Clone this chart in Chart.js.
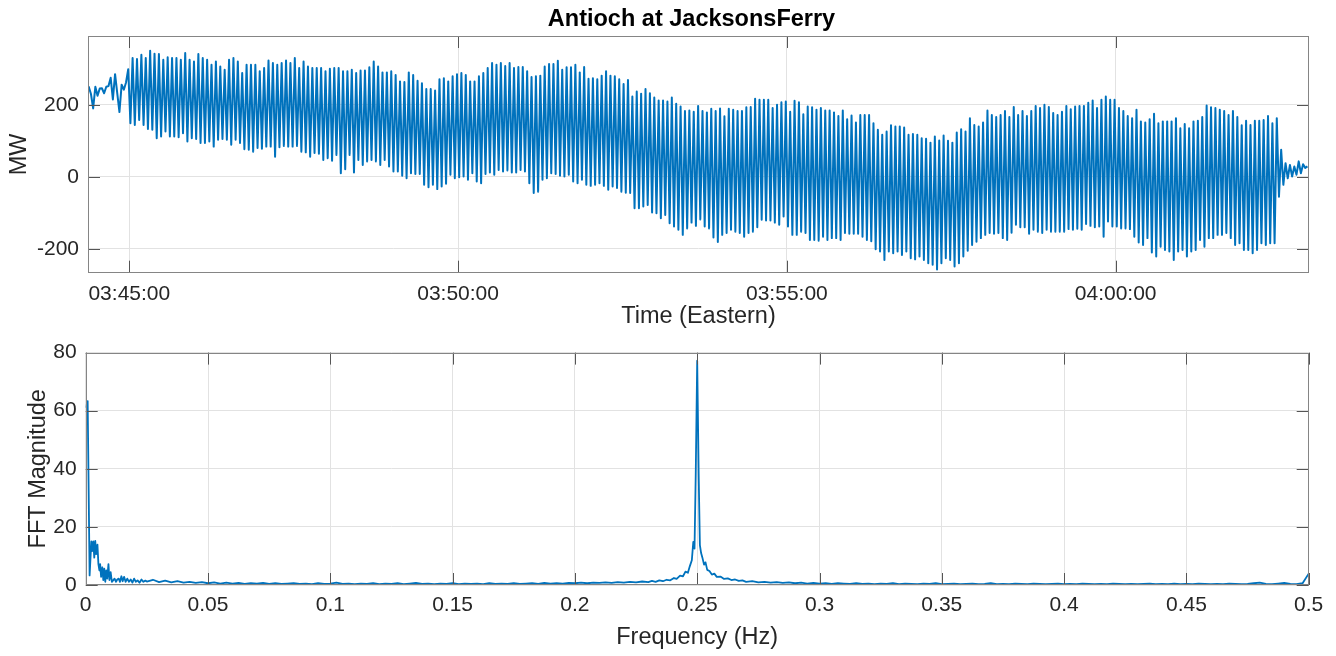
<!DOCTYPE html>
<html>
<head>
<meta charset="utf-8">
<title>Antioch at JacksonsFerry</title>
<script src="https://cdn.jsdelivr.net/npm/chart.js@4.4.1/dist/chart.umd.min.js"></script>
<style>
  html, body { margin: 0; padding: 0; background: #fff; }
  #wrap { position: relative; width: 1336px; height: 656px; overflow: hidden; }
  canvas { position: absolute; left: 0; }
  #chart-mw { top: 0; }
  #chart-fft { top: 331px; }
</style>
</head>
<body>
<div id="wrap">
  <canvas id="chart-mw" width="1336" height="331"></canvas>
  <canvas id="chart-fft" width="1336" height="325"></canvas>
</div>
<script>
// ---- top plot: MW flow, sampled every 2 s (seconds relative to 03:45:00)
const titleText = 'Antioch at JacksonsFerry';
const firstSampleSec = -39;
const sampleStepSec = 2;
const timeMinSec = -37.7;
const timeMaxSec = 1076.4;
const timeTickSec = [0, 300, 600, 900];
const timeTickLabels = ['03:45:00', '03:50:00', '03:55:00', '04:00:00'];
const mwTicks = [-200, 0, 200];

// before the oscillation sets in
const preMW = [237, 250, 230, 190, 250, 225, 245, 246, 232, 250, 252, 275, 215, 285, 232, 180, 256, 242, 262];

// swing tops, one per cycle
const peakMW = [
  299,330,327,339,330,350,342,341,325,332,
  330,330,325,344,325,320,341,330,325,311,
  320,306,297,325,330,320,288,311,311,311,
  293,302,323,316,311,316,323,316,330,302,
  320,306,302,302,302,293,300,302,302,293,
  293,297,288,295,295,304,320,306,
  290,290,293,283,265,263,290,283,267,260,
  244,244,240,271,274,265,279,285,288,283,
  265,265,279,288,302,316,311,316,308,316,
  302,305,305,293,277,279,281,306,313,313,
  322,297,304,304,311,290,305,272,274,271,
  281,293,281,279,271,258,269,223,237,231,
  244,232,220,212,212,209,
  220,203,195,183,184,181,197,183,179,189,
  183,190,168,189,186,183,183,193,194,217,
  214,214,214,191,200,207,209,181,211,207,
  174,195,193,186,191,184,184,179,169,184,
  160,170,151,172,172,172,149,131,117,126,
  143,140,140,137,117,119,117,107,106,95,
  112,101,115,100,95,123,
  132,126,163,144,140,151,184,172,166,172,
  183,166,194,172,183,169,183,197,191,200,
  194,177,172,181,197,188,195,197,197,206,
  212,191,214,223,214,214,191,183,169,163,
  186,154,151,160,175,149,154,154,154,163,
  135,147,135,154,156,166,198,193,191,186,
  183,172,183,166,143,156,144,156,156,158,
  169,149,163
];

// swing bottoms, one after each top (the last top has none)
const troughMW = [
  149,144,158,144,133,131,107,112,126,112,
  112,110,121,98,107,105,94,94,98,84,
  103,105,103,89,103,94,77,75,70,80,
  78,84,84,56,82,86,84,84,86,70,
  68,56,66,64,47,52,45,61,10,21,
  61,12,47,33,43,47,43,
  33,47,29,15,15,3,-4,10,8,8,
  -22,-29,-22,-34,-27,-19,6,-4,-1,1,
  -8,10,-13,-18,8,12,6,19,15,18,
  12,12,19,15,-18,-45,-41,-8,-4,10,
  8,3,1,6,-13,-18,-8,-22,-25,-22,
  -18,-25,-36,-27,-31,-41,-44,-45,-87,-87,
  -82,-78,-99,-101,-115,-106,-129,
  -138,-147,-161,-143,-127,-136,-118,-138,-143,-168,
  -181,-161,-156,-147,-152,-156,-166,-156,-152,-140,
  -119,-121,-121,-127,-133,-110,-138,-161,-161,-152,
  -156,-175,-175,-177,-166,-175,-170,-170,-175,-156,
  -158,-158,-158,-166,-175,-179,-201,-207,-231,-207,
  -212,-207,-217,-207,-226,-229,-221,-231,-240,-244,
  -257,-240,-226,-231,-249,-240,
  -221,-205,-189,-180,-170,-161,-156,-158,-156,-170,
  -175,-155,-133,-140,-140,-158,-147,-152,-156,-147,
  -152,-152,-152,-152,-145,-147,-144,-147,-131,-136,
  -140,-138,-166,-124,-138,-138,-143,-143,-145,-166,
  -182,-189,-170,-210,-221,-194,-203,-207,-231,-207,
  -203,-221,-207,-203,-175,-194,-170,-170,-161,-161,
  -156,-170,-189,-184,-203,-203,-212,-203,-184,-189,
  -184,-184
];

// after the oscillation dies out
const postMW = [-55, 75, -22, 38, -4, 33, 1, 29, 6, 43, 10, 35, 25, 29];

// ---- bottom plot: FFT magnitude
const freqTicks = [0, 0.05, 0.1, 0.15, 0.2, 0.25, 0.3, 0.35, 0.4, 0.45, 0.5];
const freqTickLabels = ['0', '0.05', '0.1', '0.15', '0.2', '0.25', '0.3', '0.35', '0.4', '0.45', '0.5'];
const magTicks = [0, 20, 40, 60, 80];

const fftHz = [
  0,0.0008,0.0016,0.0019,0.0023,0.0027,0.0031,0.0035,0.0039,0.0043,
  0.0048,0.0052,0.0056,0.0059,0.0063,0.0068,0.0072,0.0076,0.008,0.0084,
  0.0088,0.0093,0.0097,0.0102,0.0107,0.0113,0.0118,0.0124,0.0129,0.0135,
  0.014,0.0146,0.0151,0.0157,0.0163,0.017,0.0177,0.0184,0.0191,0.0198,
  0.0205,0.0212,0.022,0.0228,0.0236,0.0244,
  0.025,0.0275,0.03,0.0325,0.035,0.0375,0.04,0.0425,0.045,0.0475,
  0.05,0.0525,0.055,0.0575,0.06,0.0625,0.065,0.0675,0.07,0.0725,
  0.075,0.0775,0.08,0.0825,0.085,0.0875,0.09,0.0925,0.095,0.0975,
  0.1,0.1025,0.105,0.1075,0.11,0.1125,0.115,0.1175,0.12,0.1225,
  0.125,0.1275,0.13,0.1325,0.135,0.1375,0.14,0.1425,0.145,0.1475,
  0.15,0.1525,0.155,0.1575,0.16,0.1625,0.165,0.1675,0.17,0.1725,
  0.175,0.1775,0.18,0.1825,0.185,0.1875,0.19,0.1925,0.195,0.1975,
  0.2,0.2025,0.205,0.2075,0.21,0.2125,0.215,0.2175,0.22,0.2225,
  0.225,0.2275,
  0.23,0.2315,0.233,0.2345,0.236,0.2375,0.239,0.2405,0.2416,0.243,
  0.2442,0.2452,0.2462,0.247,0.2478,0.2484,0.2489,0.2494,0.25,0.2506,
  0.2511,0.2516,0.2521,0.2528,0.2534,0.2541,0.255,0.256,0.257,0.258,
  0.2595,0.261,0.2625,0.264,0.2655,0.267,0.2685,0.27,0.2725,0.275,
  0.2775,0.28,0.2825,0.285,0.2875,0.29,0.2925,0.295,0.2975,0.3,
  0.3025,0.305,0.3075,0.31,0.3125,0.315,0.3175,0.32,0.3225,0.325,
  0.3275,0.33,0.3325,0.335,0.3375,0.34,0.3425,0.345,0.3475,0.35,
  0.3525,0.355,0.3575,0.36,0.3625,0.365,0.3675,0.37,0.3725,0.375,
  0.3775,0.38,0.3825,0.385,0.3875,0.39,0.3925,0.395,0.3975,0.4,
  0.4025,0.405,0.4075,0.41,0.4125,0.415,0.4175,0.42,0.4225,0.425,
  0.4275,0.43,0.4325,0.435,0.4375,0.44,0.4425,0.445,0.4475,0.45,
  0.4525,0.455,0.4575,0.46,0.4625,0.465,0.4675,0.47,0.4725,0.475,
  0.4775,0.48,0.4825,0.485,0.4875,0.49,0.4925,0.495,0.4975,
  0.5
];

const fftMag = [
  61,63.3,3.3,8.3,15,11.7,15,9.4,15.2,10.6,
  13.9,7.2,5,7.2,2.8,6.1,1.7,5.6,1.1,5,
  2.2,7.2,1.7,4.4,1.1,1.7,2.2,1.1,1.9,2.2,
  1.1,3,1.3,2.8,1.1,2.2,1.1,1.9,0.8,2.2,
  1.1,1.6,0.8,1.9,1.1,1.5,
  1.2,1.8,1.0,1.5,0.9,1.3,0.8,1.1,0.7,1.0,
  0.6,0.9,0.5,0.8,0.5,0.7,0.4,0.6,0.5,0.7,
  0.4,0.6,0.4,0.5,0.6,0.4,0.5,0.3,0.6,0.4,
  0.5,0.8,0.4,0.5,0.3,0.5,0.4,0.6,0.3,0.5,
  0.4,0.6,0.3,0.5,0.7,0.4,0.5,0.3,0.5,0.4,
  0.6,0.3,0.5,0.4,0.5,0.3,0.6,0.4,0.5,0.4,
  0.6,0.4,0.5,0.6,0.4,0.7,0.5,0.6,0.5,0.7,
  0.6,0.8,0.6,0.8,0.7,0.9,0.7,1.0,0.8,1.1,
  0.9,1.2,
  1.0,1.4,1.1,1.6,1.3,1.8,1.6,2.4,2.1,3.2,
  3.0,4.6,4.2,6.5,8.5,14.8,12.5,38,77.2,38,
  13.7,11,9.5,7,7.8,5.2,4.8,3.6,3.9,2.8,
  2.9,2.1,2.3,1.7,1.9,1.4,1.6,1.1,1.3,0.9,
  1.1,0.8,1.0,0.7,0.9,0.6,0.8,0.5,0.7,0.5,
  0.6,0.4,0.6,0.5,0.4,0.6,0.4,0.5,0.3,0.5,
  0.4,0.6,0.3,0.5,0.4,0.3,0.5,0.4,0.6,0.3,
  0.4,0.5,0.3,0.4,0.5,0.3,0.4,0.6,0.3,0.4,
  0.3,0.5,0.4,0.3,0.5,0.4,0.3,0.4,0.5,0.3,
  0.4,0.3,0.5,0.4,0.3,0.4,0.3,0.5,0.4,0.3,
  0.4,0.3,0.4,0.5,0.3,0.4,0.3,0.5,0.3,0.4,
  0.3,0.5,0.4,0.3,0.4,0.3,0.5,0.4,0.3,0.4,
  0.6,0.8,0.4,0.3,0.5,0.7,0.4,0.3,0.6,
  3.9
];

if (fftHz.length !== fftMag.length) throw new Error('fft arrays differ: ' + fftHz.length + ' vs ' + fftMag.length);
if (troughMW.length !== peakMW.length - 1) throw new Error('peaks/troughs: ' + peakMW.length + ' vs ' + troughMW.length);

const FONT = '"Liberation Sans", Arial, Helvetica, sans-serif';
const TEXT = '#262626';
const GRID = '#e2e2e2';
const LINE = '#0072BD';

Chart.defaults.font.family = FONT;
Chart.defaults.color = TEXT;

// MATLAB-ish box with inward ticks on all four sides
const axesBox = {
  id: 'axesBox',
  afterDraw(chart) {
    const { ctx, chartArea: a, scales } = chart;
    const len = 12;
    ctx.save();
    ctx.lineWidth = 1;
    ctx.strokeStyle = '#555';
    ctx.beginPath();
    scales.x.ticks.forEach(t => {
      const px = Math.round(scales.x.getPixelForValue(t.value)) + 0.5;
      ctx.moveTo(px, a.bottom); ctx.lineTo(px, a.bottom - len);
      ctx.moveTo(px, a.top); ctx.lineTo(px, a.top + len);
    });
    scales.y.ticks.forEach(t => {
      const py = Math.round(scales.y.getPixelForValue(t.value)) + 0.5;
      ctx.moveTo(a.left, py); ctx.lineTo(a.left + len, py);
      ctx.moveTo(a.right, py); ctx.lineTo(a.right - len, py);
    });
    ctx.stroke();
    ctx.strokeStyle = '#858585';
    ctx.strokeRect(Math.round(a.left) + 0.5, Math.round(a.top) + 0.5,
      Math.round(a.right - a.left) - 1, Math.round(a.bottom - a.top) - 1);
    ctx.restore();
  }
};

const figTitle = {
  id: 'figTitle',
  afterDraw(chart) {
    const { ctx, chartArea: a } = chart;
    ctx.save();
    ctx.font = 'bold 23.5px ' + FONT;
    ctx.fillStyle = '#000';
    ctx.textAlign = 'center';
    ctx.textBaseline = 'middle';
    ctx.fillText(titleText, (a.left + a.right) / 2 - 7, 20);
    ctx.restore();
  }
};

function fixedTicks(values) {
  return scale => { scale.ticks = values.map(v => ({ value: v })); };
}

function baseOptions(o) {
  return {
    responsive: false,
    animation: false,
    devicePixelRatio: 1,
    events: [],
    layout: { padding: o.padding, autoPadding: false },
    plugins: { legend: { display: false }, tooltip: { enabled: false }, title: { display: false } },
    scales: {
      x: {
        type: 'linear',
        min: o.xMin, max: o.xMax,
        afterBuildTicks: fixedTicks(o.xTicks),
        afterFit: s => { s.height = o.xHeight; },
        ticks: { autoSkip: false, maxRotation: 0, padding: o.xTickPad, color: TEXT, font: { size: 21 },
          callback: (v, i) => o.xLabels[i] },
        grid: { color: GRID, drawTicks: false },
        border: { display: false },
        title: { display: true, text: o.xTitle, color: TEXT, font: { size: 23.5 }, padding: { top: 0, bottom: o.xTitlePad } }
      },
      y: {
        type: 'linear',
        min: o.yMin, max: o.yMax,
        afterBuildTicks: fixedTicks(o.yTicks),
        afterFit: s => { s.width = o.yWidth; },
        ticks: { padding: 9, color: TEXT, font: { size: 21 }, callback: v => String(v) },
        grid: { color: GRID, drawTicks: false },
        border: { display: false },
        title: { display: true, text: o.yTitle, color: TEXT, font: { size: 23.5 }, padding: { top: o.yTitlePad, bottom: 0 } }
      }
    }
  };
}

// interleave tops and bottoms into the sampled series
const mw = preMW.slice();
peakMW.forEach((p, i) => {
  mw.push(p);
  if (i < troughMW.length) mw.push(troughMW[i]);
});
postMW.forEach(v => mw.push(v));
const mwSeries = mw.map((v, i) => ({ x: firstSampleSec + i * sampleStepSec, y: v }));
const fftSeries = fftHz.map((f, i) => ({ x: f, y: fftMag[i] }));

new Chart(document.getElementById('chart-mw').getContext('2d'), {
  type: 'line',
  data: { datasets: [{ data: mwSeries, borderColor: LINE, borderWidth: 2, pointRadius: 0,
    fill: false, tension: 0, borderJoinStyle: 'round' }] },
  options: baseOptions({
    padding: { left: 0, right: 27, top: 36, bottom: 0 },
    xMin: timeMinSec, xMax: timeMaxSec, xTicks: timeTickSec, xLabels: timeTickLabels,
    xHeight: 58.3, xTickPad: 8.6, xTitle: 'Time (Eastern)', xTitlePad: 0,
    yMin: -266, yMax: 391, yTicks: mwTicks, yWidth: 88, yTitle: 'MW', yTitlePad: 5.8
  }),
  plugins: [axesBox, figTitle]
});

new Chart(document.getElementById('chart-fft').getContext('2d'), {
  type: 'line',
  data: { datasets: [{ data: fftSeries, borderColor: LINE, borderWidth: 1.8, pointRadius: 0,
    fill: false, tension: 0, borderJoinStyle: 'round' }] },
  options: baseOptions({
    padding: { left: 0, right: 27.3, top: 14, bottom: 0 },
    xMin: 0, xMax: 0.5, xTicks: freqTicks, xLabels: freqTickLabels,
    xHeight: 71, xTickPad: 7.4, xTitle: 'Frequency (Hz)', xTitlePad: 4.8,
    yMin: 0, yMax: 80, yTicks: magTicks, yWidth: 85.7, yTitle: 'FFT Magnitude', yTitlePad: 24.3
  }),
  plugins: [axesBox]
});
</script>
</body>
</html>
